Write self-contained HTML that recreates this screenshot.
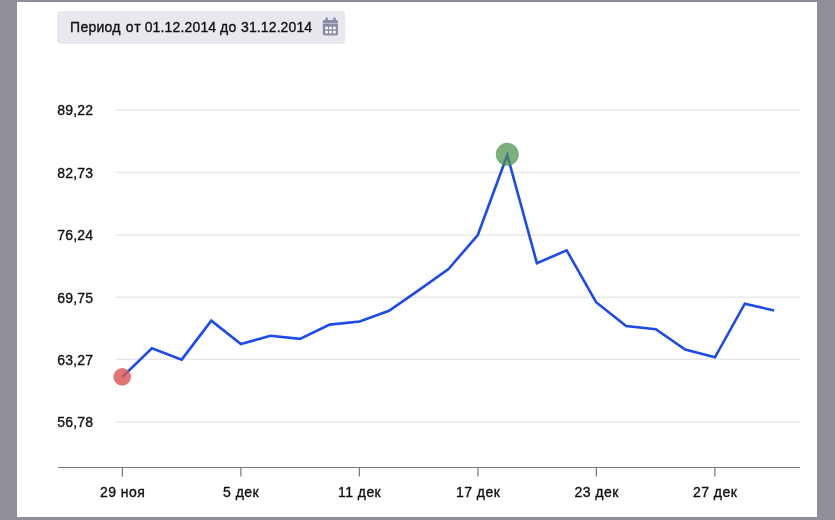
<!DOCTYPE html>
<html><head><meta charset="utf-8">
<style>
html,body{margin:0;padding:0;}
body{width:835px;height:520px;background:#8f8f99;position:relative;overflow:hidden;font-family:"Liberation Sans",sans-serif;}
#panel{position:absolute;left:17px;top:1.7px;width:799.5px;height:515.1px;background:#fff;}
#btn{position:absolute;left:57.2px;top:11.4px;width:287.5px;height:33.1px;background:#e8e8ee;border-radius:4px;}
svg{position:absolute;left:0;top:0;}
text{font-family:"Liberation Sans",sans-serif;font-size:14px;fill:#111;stroke:#111;stroke-width:0.35px;}
.gs{filter:grayscale(1);}
</style></head><body>
<div id="panel"></div>
<div id="btn"></div>
<svg width="835" height="520" viewBox="0 0 835 520">
<g stroke="#e8e8e8" stroke-width="1.5">
<line x1="115.5" x2="800.2" y1="110" y2="110"/>
<line x1="115.5" x2="800.2" y1="172.4" y2="172.4"/>
<line x1="115.5" x2="800.2" y1="234.9" y2="234.9"/>
<line x1="115.5" x2="800.2" y1="297.2" y2="297.2"/>
<line x1="115.5" x2="800.2" y1="359.3" y2="359.3"/>
<line x1="115.5" x2="800.2" y1="422" y2="422"/>
</g>
<g stroke="#777" stroke-width="1.2">
<line x1="58" x2="800.2" y1="467.5" y2="467.5"/>
<line x1="122.4" x2="122.4" y1="467.5" y2="476.6"/>
<line x1="240.9" x2="240.9" y1="467.5" y2="476.6"/>
<line x1="359.4" x2="359.4" y1="467.5" y2="476.6"/>
<line x1="477.9" x2="477.9" y1="467.5" y2="476.6"/>
<line x1="596.4" x2="596.4" y1="467.5" y2="476.6"/>
<line x1="714.9" x2="714.9" y1="467.5" y2="476.6"/>
</g>
<g class="gs">
<text id="w1" x="70.1" y="32" letter-spacing="0.25">Период</text>
<text id="w2" x="125.7" y="32" letter-spacing="1.2">от</text>
<text id="w3" x="144.7" y="32" letter-spacing="0.15">01.12.2014</text>
<text id="w4" x="220.1" y="32" letter-spacing="0.3">до</text>
<text id="w5" x="241.1" y="32" letter-spacing="0.1">31.12.2014</text>
</g>
<g fill="#8b8ca9">
<rect x="325.4" y="17.6" width="2.5" height="3.4" rx="0.9"/>
<rect x="333.3" y="17.6" width="2.5" height="3.4" rx="0.9"/>
<path d="M322.8 22.9 V21.4 Q322.8 19.9 324.3 19.9 H336.5 Q338 19.9 338 21.4 V22.9 Z"/>
<path d="M322.8 23.4 H338 V33.4 Q338 35.4 336 35.4 H324.8 Q322.8 35.4 322.8 33.4 Z"/>
</g>
<g fill="#ffffff">
<rect x="325.3" y="26.7" width="2.6" height="2.6"/>
<rect x="329.2" y="26.7" width="2.6" height="2.6"/>
<rect x="333.1" y="26.7" width="2.6" height="2.6"/>
<rect x="325.3" y="30.8" width="2.6" height="2.6"/>
<rect x="329.2" y="30.8" width="2.6" height="2.6"/>
<rect x="333.1" y="30.8" width="2.6" height="2.6"/>
</g>
<g class="gs" letter-spacing="0.15">
<text x="57.3" y="115.4">89,22</text>
<text x="57.3" y="177.8">82,73</text>
<text x="57.3" y="240.3">76,24</text>
<text x="57.3" y="302.6">69,75</text>
<text x="57.3" y="364.7">63,27</text>
<text x="57.3" y="427.4">56,78</text>
</g>
<g class="gs" text-anchor="middle" letter-spacing="0.45">
<text x="122.6" y="497.4">29 ноя</text>
<text x="241.1" y="497.4">5 дек</text>
<text x="359.6" y="497.4">11 дек</text>
<text x="478.1" y="497.4">17 дек</text>
<text x="596.6" y="497.4">23 дек</text>
<text x="715.1" y="497.4">27 дек</text>
</g>
<polyline fill="none" stroke="#1c4bea" stroke-width="2.6" stroke-linejoin="miter" points="122.4,376.9 151.9,348.2 181.7,359.6 211.3,320.7 240.9,344.1 270.4,335.7 300,338.8 329.7,324.6 359.6,321.5 389,310.8 418.5,290.4 448.5,269.1 477.8,235 507.3,155 536.9,263.1 566.7,250.4 596.1,302.2 626.1,326 655.8,329.2 685.2,349.5 715,357.3 744.8,303.7 774.2,310.6"/>
<circle cx="122.2" cy="376.9" r="8.8" fill="#d9534f" fill-opacity="0.8"/>
<circle cx="507.3" cy="154.3" r="11.5" fill="#4c914c" fill-opacity="0.73"/>
</svg>
</body></html>
